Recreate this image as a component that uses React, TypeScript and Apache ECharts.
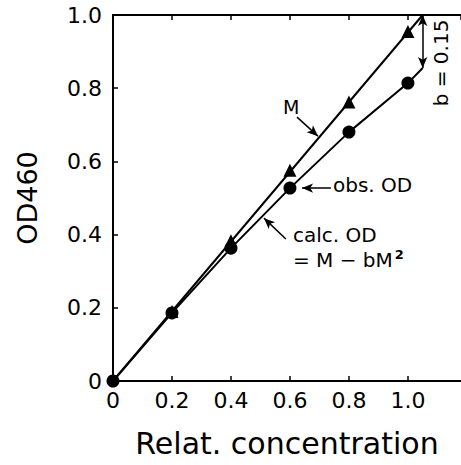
import React, { useEffect, useRef } from "react";
import * as echarts from "echarts";

const xTicks = [0, 0.2, 0.4, 0.6, 0.8, 1.0];
const yTicks = [0, 0.2, 0.4, 0.6, 0.8, 1.0];
const concM = [0.2, 0.4, 0.6, 0.8, 1.0];
const mValues = [0.19, 0.383, 0.576, 0.762, 0.955];
const concObs = [0, 0.2, 0.4, 0.6, 0.8, 1.0];
const obsValues = [0, 0.186, 0.363, 0.527, 0.68, 0.814];
const mLine = [[0, 0], [1.05, 1.0]];
const calcLine = [[0, 0], [0.2, 0.186], [0.4, 0.363], [0.6, 0.527], [0.8, 0.68], [1.0, 0.814], [1.05, 0.855]];
const bArrow = [[1.05, 1.0], [1.05, 0.855]];
const mPointer = [[0.624, 0.721], [0.695, 0.669]];
const obsPointer = [[0.739, 0.527], [0.641, 0.527]];
const calcPointer = [[0.586, 0.388], [0.512, 0.445]];

const FONT = "DejaVu Sans";

export default function App() {
  const ref = useRef<HTMLDivElement>(null);
  useEffect(() => {
    if (!ref.current) return;
    const chart = echarts.init(ref.current, null, { renderer: "svg" });
    const fmt = (v: number) => (v > 1.01 ? "" : v === 0 ? "0" : v.toFixed(1));
    const axisLine = { show: true, lineStyle: { color: "#000", width: 2 } };
    const tick = { show: true, inside: true, length: 5, lineStyle: { color: "#000", width: 1.5 } };
    const arrowLine = (pts: number[][], both: boolean) => ({
      silent: true,
      symbol: both ? ["arrow", "arrow"] : ["none", "arrow"],
      symbolSize: [7, 11],
      label: { show: false },
      lineStyle: { color: "#000", width: 1.5, type: "solid" },
      data: [[{ coord: pts[0] }, { coord: pts[1] }]],
    });
    chart.setOption({
      animation: false,
      backgroundColor: "#fff",
      grid: { left: 113, right: 0, top: 15, bottom: 84, containLabel: false },
      xAxis: [
        {
          type: "value",
          min: 0,
          max: 1.18,
          interval: 0.2,
          axisLine,
          axisTick: tick,
          splitLine: { show: false },
          axisLabel: { formatter: fmt, color: "#000", fontFamily: FONT, fontSize: 22, margin: 8, showMaxLabel: false },
          name: "Relat. concentration",
          nameLocation: "middle",
          nameGap: 47,
          nameTextStyle: { color: "#000", fontFamily: FONT, fontSize: 30, verticalAlign: "top" },
        },
        {
          type: "value",
          position: "top",
          min: 0,
          max: 1.18,
          interval: 0.2,
          axisLine,
          axisTick: tick,
          splitLine: { show: false },
          axisLabel: { show: false },
        },
      ],
      yAxis: {
        type: "value",
        min: 0,
        max: 1,
        interval: 0.2,
        axisLine,
        axisTick: tick,
        splitLine: { show: false },
        axisLabel: { formatter: (v: number) => (v === 0 ? "0" : v.toFixed(1)), color: "#000", fontFamily: FONT, fontSize: 22, margin: 11 },
        name: "OD460",
        nameLocation: "middle",
        nameGap: 72,
        nameTextStyle: { color: "#000", fontFamily: FONT, fontSize: 27 },
      },
      series: [
        {
          type: "line",
          name: "M line",
          data: mLine,
          showSymbol: false,
          symbol: "none",
          lineStyle: { color: "#000", width: 2 },
          markLine: arrowLine(mPointer, false),
        },
        {
          type: "line",
          name: "calc OD",
          data: calcLine,
          showSymbol: false,
          symbol: "none",
          lineStyle: { color: "#000", width: 2 },
          markLine: arrowLine(calcPointer, false),
        },
        {
          type: "line",
          name: "b",
          data: [],
          markLine: arrowLine(bArrow, true),
        },
        {
          type: "line",
          name: "obs pointer",
          data: [],
          markLine: arrowLine(obsPointer, false),
        },
        {
          type: "scatter",
          name: "M",
          data: concM.map((x, i) => [x, mValues[i]]),
          symbol: "triangle",
          symbolSize: 13,
          itemStyle: { color: "#000", opacity: 1 },
        },
        {
          type: "scatter",
          name: "obs. OD",
          data: concObs.map((x, i) => [x, obsValues[i]]),
          symbol: "circle",
          symbolSize: 13,
          itemStyle: { color: "#000", opacity: 1 },
        },
      ],
      graphic: [
        { type: "text", left: 283, top: 97, style: { text: "M", font: `19px "${FONT}"`, fill: "#000" } },
        { type: "text", left: 333, top: 175, style: { text: "obs. OD", font: `20px "${FONT}"`, fill: "#000" } },
        { type: "text", left: 293, top: 225, style: { text: "calc. OD", font: `20px "${FONT}"`, fill: "#000" } },
        {
          type: "text",
          left: 293,
          top: 248,
          style: {
            text: "= M − bM{sup|2}",
            font: `20px "${FONT}"`,
            fill: "#000",
            rich: { sup: { fontSize: 13, fontWeight: "bold", fontFamily: FONT, verticalAlign: "top", padding: [0, 0, 10, 2] } },
          },
        },
        {
          type: "text",
          x: 441,
          y: 63,
          rotation: Math.PI / 2,
          style: { text: "b = 0.15", font: `20px "${FONT}"`, fill: "#000", align: "center", verticalAlign: "middle" },
        },
      ],
    });
    return () => chart.dispose();
  }, []);
  return <div ref={ref} style={{ position: "fixed", left: 0, top: 0, width: 461, height: 465 }} />;
}
